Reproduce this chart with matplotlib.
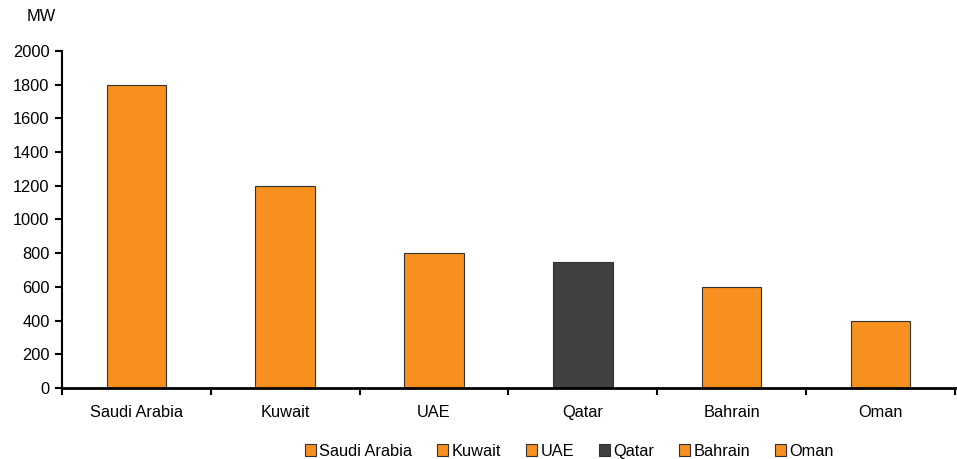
import matplotlib.pyplot as plt
import numpy as np
from matplotlib.patches import Patch

plt.rcParams["font.family"] = ["Liberation Sans", "DejaVu Sans"]

countries = ["Saudi Arabia", "Kuwait", "UAE", "Qatar", "Bahrain", "Oman"]
capacity_mw = [1800, 1200, 800, 750, 600, 400]
bar_colors = ["#F7901E", "#F7901E", "#F7901E", "#404040", "#F7901E", "#F7901E"]
y_ticks = [0, 200, 400, 600, 800, 1000, 1200, 1400, 1600, 1800, 2000]

fig = plt.figure(figsize=(9.57, 4.59), dpi=100)
ax = fig.add_axes([0.0648, 0.1547, 0.933, 0.7343])

x = np.arange(len(countries))
ax.bar(x, capacity_mw, width=0.4, color=bar_colors, edgecolor="#333333", linewidth=0.8, zorder=2)

ax.set_xlim(-0.5, len(countries) - 0.5)
ax.set_ylim(0, 2000)
ax.set_yticks(y_ticks)
ax.tick_params(axis="y", direction="out", length=5, width=1.5, labelsize=11.8, pad=4)

ax.set_xticks(x)
ax.set_xticklabels(countries, fontsize=11.8)
ax.tick_params(axis="x", length=0, pad=12)
ax.set_xticks(np.arange(len(countries) + 1) - 0.5, minor=True)
ax.tick_params(axis="x", which="minor", direction="out", length=5, width=1.5)

for s in ["top", "right"]:
    ax.spines[s].set_visible(False)
ax.spines["left"].set_linewidth(1.5)
ax.spines["bottom"].set_linewidth(2)

fig.text(0.028, 0.955, "MW", fontsize=11.8)

handles = [Patch(facecolor=c, edgecolor="#333333", linewidth=0.8) for c in bar_colors]
fig.legend(handles, countries, loc="center", bbox_to_anchor=(0.595, 0.017), ncol=6, frameon=False,
           fontsize=11.8, handlelength=0.7, handleheight=0.7, handletextpad=0.2, columnspacing=1.5)

fig.savefig("out.png", dpi=100)
